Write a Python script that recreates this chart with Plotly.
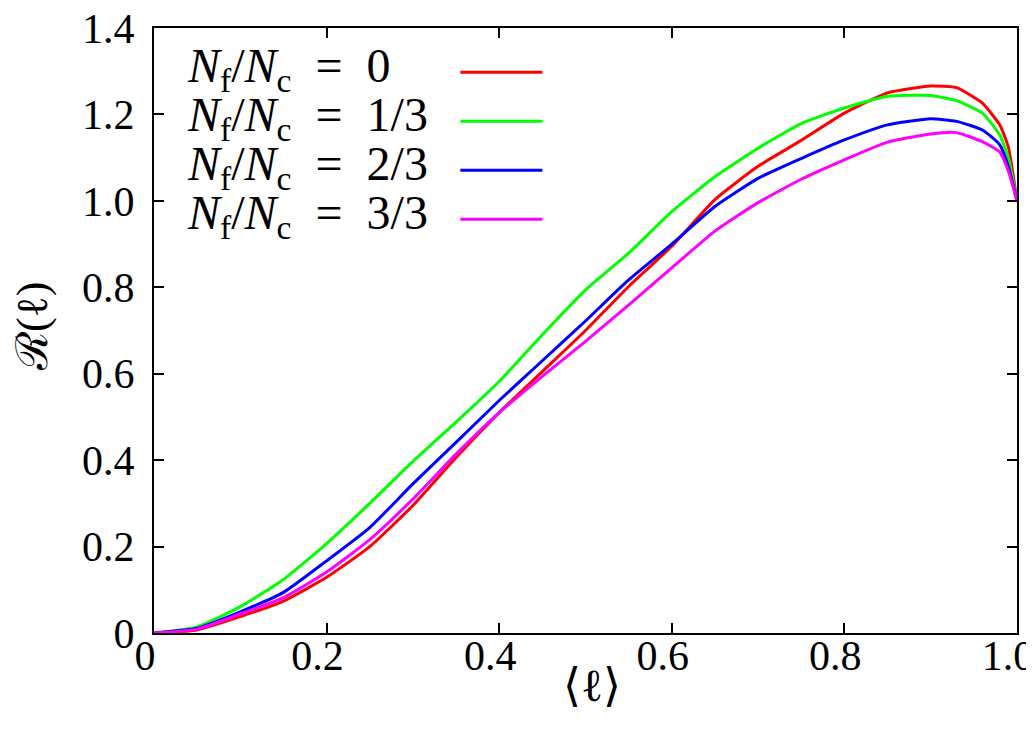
import plotly.graph_objects as go

# <l> values, shared by all four curves
x = [0, 0.05, 0.1, 0.15, 0.2, 0.25, 0.3, 0.35, 0.4, 0.45, 0.5, 0.55, 0.6,
     0.65, 0.7, 0.75, 0.8, 0.85, 0.9, 0.93, 0.96, 0.98, 0.99, 1.0]

r_0 = [0, 0.007, 0.038, 0.074, 0.129, 0.20, 0.295, 0.406, 0.51, 0.605, 0.70,
       0.802, 0.895, 1.003, 1.08, 1.14, 1.203, 1.25, 1.266, 1.262, 1.226,
       1.176, 1.125, 1.0]
r_1 = [0, 0.014, 0.061, 0.124, 0.207, 0.30, 0.397, 0.488, 0.582, 0.69, 0.794,
       0.879, 0.975, 1.056, 1.122, 1.179, 1.215, 1.242, 1.244, 1.232, 1.203,
       1.153, 1.10, 1.0]
r_2 = [0, 0.011, 0.049, 0.094, 0.167, 0.244, 0.345, 0.441, 0.538, 0.63, 0.722,
       0.817, 0.90, 0.987, 1.052, 1.098, 1.141, 1.176, 1.19, 1.184, 1.164,
       1.13, 1.08, 1.0]
r_3 = [0, 0.009, 0.044, 0.082, 0.141, 0.216, 0.31, 0.414, 0.51, 0.594, 0.675,
       0.759, 0.845, 0.93, 0.996, 1.05, 1.095, 1.136, 1.155, 1.158, 1.137,
       1.113, 1.07, 1.0]

labels = ["0", "1/3", "2/3", "3/3"]
colors = ["#ff0000", "#00ff00", "#0000ff", "#ff00ff"]
series = [r_0, r_1, r_2, r_3]

x_ticks = [0, 0.2, 0.4, 0.6, 0.8, 1.0]
x_ticktext = ["0", "0.2", "0.4", "0.6", "0.8", "1.0"]
y_ticks = [0, 0.2, 0.4, 0.6, 0.8, 1.0, 1.2, 1.4]
y_ticktext = ["0", "0.2", "0.4", "0.6", "0.8", "1.0", "1.2", "1.4"]

serif = "Liberation Serif"

fig = go.Figure()
for ys, c, lab in zip(series, colors, labels):
    fig.add_trace(go.Scatter(x=x, y=ys, mode="lines", name=lab,
                             line=dict(color=c, width=3, shape="spline", smoothing=0.5),
                             showlegend=False))

# hand-made key: text first, line sample after, like the gnuplot original
for i, (c, lab) in enumerate(zip(colors, labels)):
    yk = 0.927 - i * 0.081
    fig.add_annotation(xref="paper", yref="paper", x=0.036, y=yk + 0.006,
                       xanchor="left", yanchor="middle", showarrow=False,
                       text=f"<i>N</i><sub>f</sub>/<i>N</i><sub>c</sub>&#8197;&nbsp;=&nbsp;&#8197;{lab}",
                       font=dict(family=serif, size=48, color="black"))
    fig.add_shape(type="line", xref="paper", yref="paper",
                  x0=0.355, x1=0.45, y0=yk, y1=yk,
                  line=dict(color=c, width=3))

# axis titles placed by hand
fig.add_annotation(xref="paper", yref="paper", x=0.5075, y=-0.086,
                   xanchor="center", yanchor="middle", showarrow=False,
                   text="⟨ℓ⟩", font=dict(family=serif, size=46, color="black"))
fig.add_annotation(xref="paper", yref="paper", x=-0.14, y=0.506,
                   xanchor="center", yanchor="middle", showarrow=False, textangle=-90,
                   text="ℛ(ℓ)", font=dict(family=serif, size=44, color="black"))

axis_common = dict(showline=True, linecolor="black", linewidth=2, mirror="ticks",
                   ticks="inside", ticklen=10, tickwidth=2, tickcolor="black",
                   showgrid=False, zeroline=False, automargin=False,
                   ticklabeloverflow="allow",
                   tickfont=dict(family=serif, size=42, color="black"))

# labels sit a little left of their ticks, as in the original, which keeps "1.0" on the page
fig.update_xaxes(range=[0, 1.0001], tickvals=x_ticks, ticktext=x_ticktext,
                 ticklabelstandoff=-15, ticklabelshift=-9, **axis_common)
fig.update_yaxes(range=[0, 1.4001], tickvals=y_ticks, ticktext=y_ticktext,
                 ticklabelstandoff=9, **axis_common)

# the page adds an 8px body margin, so the figure is 8px smaller on each side
fig.update_layout(width=1026, height=726,
                  margin=dict(l=146, r=17, t=20, b=101),
                  plot_bgcolor="white", paper_bgcolor="white")

fig.write_html("out.html")
